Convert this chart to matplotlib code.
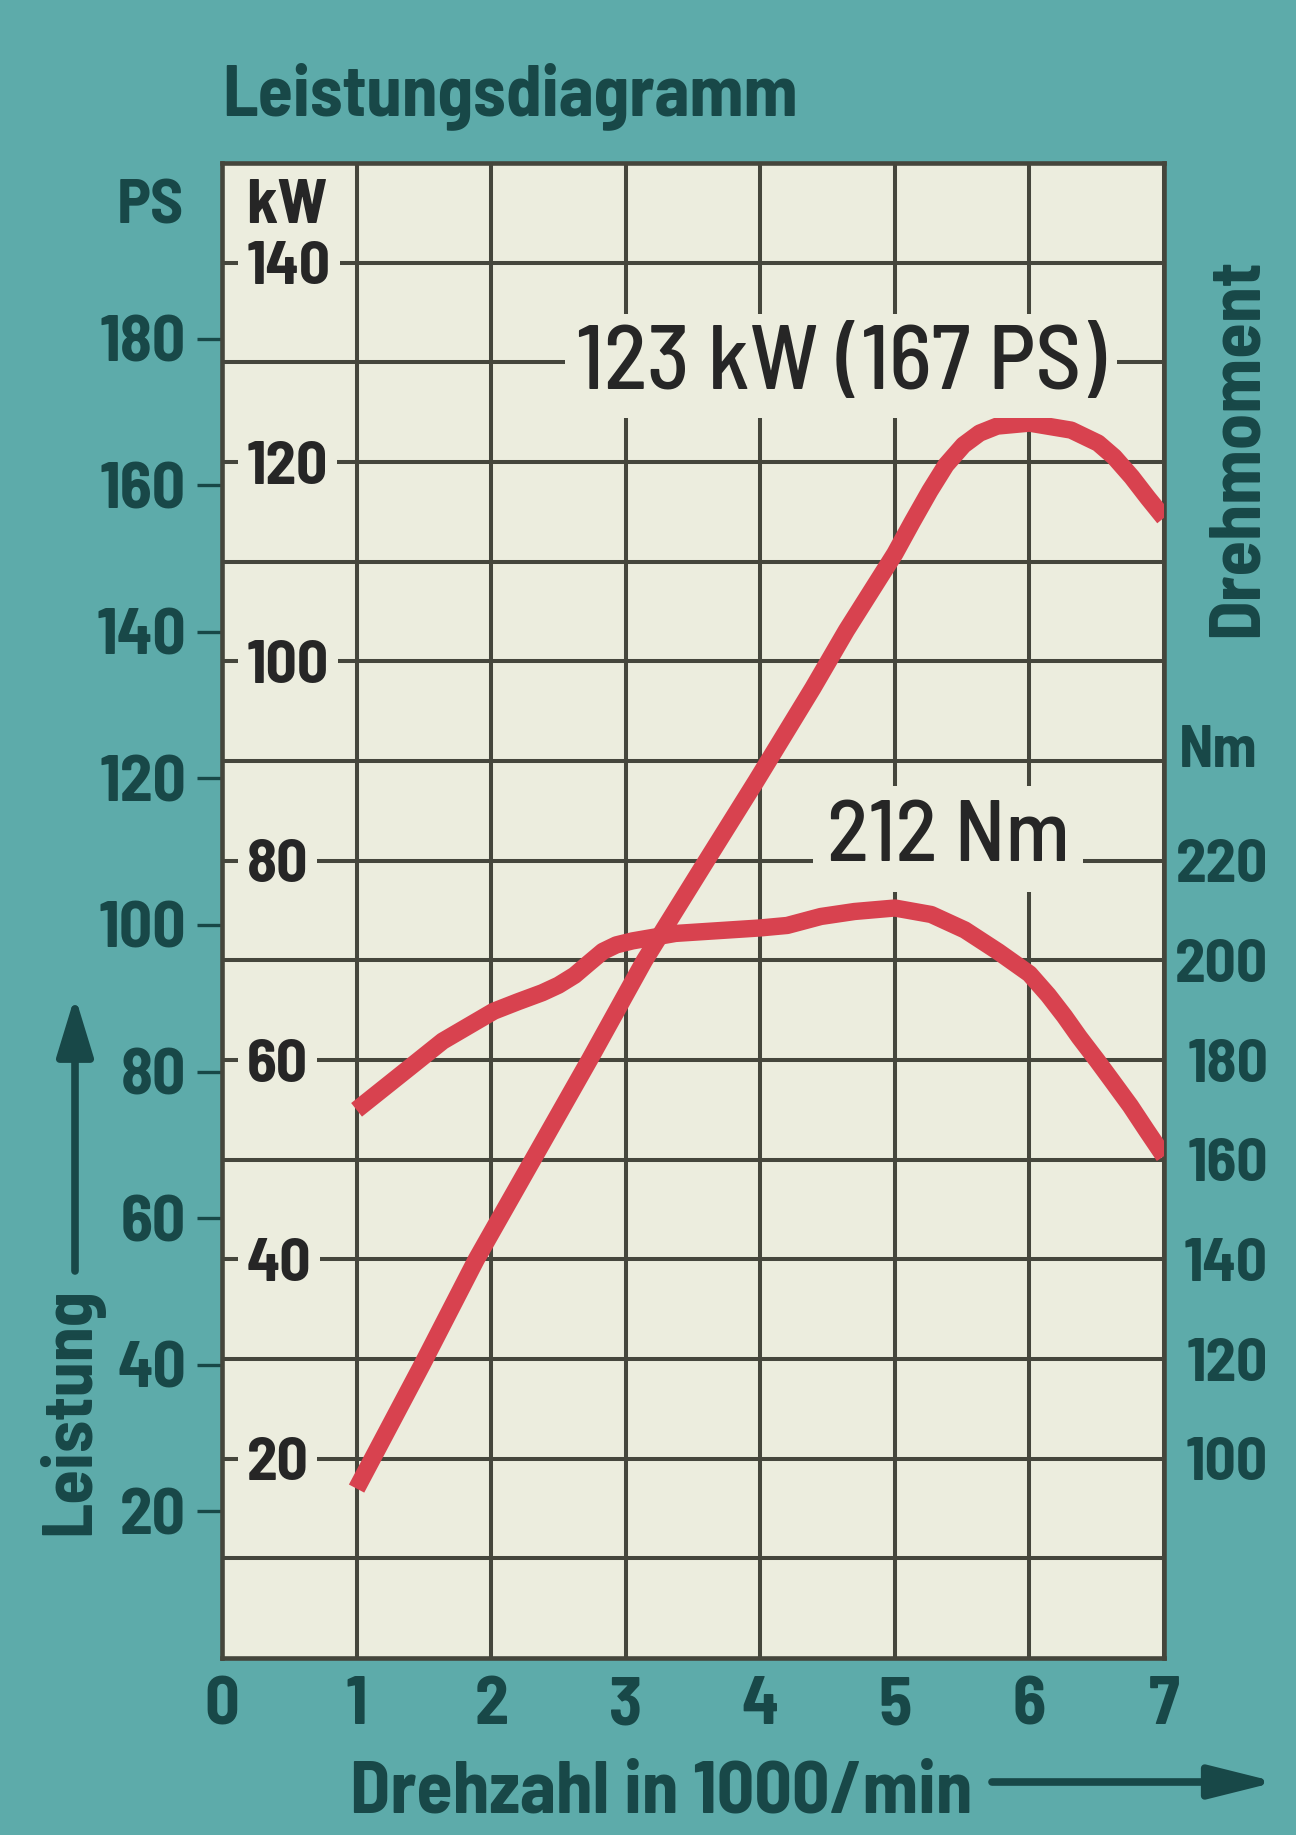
import matplotlib
matplotlib.use("Agg")
import matplotlib.pyplot as plt
from matplotlib import font_manager
from matplotlib.patches import FancyArrowPatch

# ---------------- data ----------------
rpm_power = [1.0, 1.49, 1.89, 2.31, 2.73, 3.14, 3.60, 3.97, 4.39, 4.64, 5.0,
             5.13, 5.26, 5.38, 5.51, 5.63, 5.76, 6.0, 6.31, 6.51, 6.63, 6.76,
             6.88, 7.0]
power_kw = [17.0, 29.5, 40.0, 50.0, 60.0, 70.0, 80.0, 88.0, 97.3, 103.1, 110.8,
            114.0, 117.1, 119.7, 121.7, 122.9, 123.6, 123.9, 123.2, 121.9, 120.5,
            118.5, 116.4, 114.4]

rpm_torque = [1.0, 1.39, 1.64, 2.02, 2.2, 2.38, 2.5, 2.62, 2.72, 2.83, 2.93,
              3.05, 3.2, 3.37, 4.0, 4.2, 4.45, 4.7, 5.0, 5.27, 5.52, 5.77, 6.0,
              6.14, 6.26, 6.37, 6.5, 6.62, 6.75, 6.87, 7.0]
torque_nm = [170.0, 178.4, 183.8, 189.8, 191.7, 193.5, 195.0, 197.0, 199.3,
             201.8, 203.1, 203.9, 204.6, 205.4, 206.5, 207.0, 208.8, 209.8, 210.5,
             209.2, 206.1, 201.7, 197.3, 193.0, 188.8, 184.6, 180.0, 175.6, 170.8,
             165.9, 160.7]

x_ticks = [0, 1, 2, 3, 4, 5, 6, 7]
x_labels = ["0", "1", "2", "3", "4", "5", "6", "7"]
kw_ticks = [20, 40, 60, 80, 100, 120, 140]
kw_minor = [10, 30, 50, 70, 90, 110, 130]
ps_ticks = [20, 40, 60, 80, 100, 120, 140, 160, 180]
nm_ticks = [100, 120, 140, 160, 180, 200, 220]

title = "Leistungsdiagramm"
power_note = "123 kW (167 PS)"
torque_note = "212 Nm"

# ---------------- style ----------------
names = {f.name for f in font_manager.fontManager.ttflist}
FONT = "Barlow Semi Condensed" if "Barlow Semi Condensed" in names else "DejaVu Sans"
plt.rcParams["font.family"] = [FONT, "DejaVu Sans"]

TEAL = "#5dabaa"
DARK = "#184848"
CREAM = "#ecedde"
GRID = "#45463c"
RED = "#d8424f"
INK = "#262626"

W_PX, H_PX = 1296, 1835


def fx(px):
    return px / W_PX


def fy(py):
    return 1 - py / H_PX


fig = plt.figure(figsize=(W_PX / 100, H_PX / 100), dpi=100, facecolor=TEAL)
renderer = fig.canvas.get_renderer()


def fit(t, target_px):
    bb = t.get_window_extent(renderer)
    length = max(bb.width, bb.height)
    t.set_fontsize(t.get_fontsize() * target_px / length)
    return t


left, right, top, bottom = 222, 1164, 163, 1658
ax = fig.add_axes([fx(left), fy(bottom), (right - left) / W_PX, (bottom - top) / H_PX],
                  facecolor=CREAM)
ax.set_xlim(0, 7)
ax.set_ylim(0, 150)
ax.set_axisbelow(True)

# x axis
ax.set_xticks(x_ticks, x_labels, fontsize=49, fontweight="bold", color=DARK)
ax.tick_params(axis="x", length=0, pad=13)

# kW axis (labels inside the plot)
ax.set_yticks(kw_ticks, [str(v) for v in kw_ticks], fontsize=44, fontweight="bold",
              color=INK, ha="left")
ax.set_yticks(kw_minor, minor=True)
ax.tick_params(axis="y", which="both", length=0)
ax.tick_params(axis="y", which="major", pad=-18)
for lab in ax.get_yticklabels():
    lab.set_bbox(dict(boxstyle="square,pad=0.14", fc=CREAM, ec="none"))

ax.grid(True, which="both", color=GRID, lw=2.9)
for s in ax.spines.values():
    s.set_color(GRID)
    s.set_linewidth(3.3)

# PS axis (outside left)
sec = ax.secondary_yaxis("left", functions=(lambda k: k * 1.35962, lambda p: p / 1.35962))
sec.set_ticks(ps_ticks, labels=[str(v) for v in ps_ticks], fontsize=47,
              fontweight="bold", color=DARK)
sec.tick_params(length=18, width=2.4, color=DARK, pad=8)
sec.spines["left"].set_visible(False)

# power curve
ax.plot(rpm_power, power_kw, color=RED, lw=12.5, solid_capstyle="butt",
        solid_joinstyle="round", zorder=3)

# torque axis (right)
ax2 = ax.twinx()
ax2.set_ylim(60, 360)
ax2.set_yticks(nm_ticks, [str(v) for v in nm_ticks], fontsize=44, fontweight="bold",
               color=DARK, ha="right")
ax2.tick_params(axis="y", length=0, pad=75)
for s in ax2.spines.values():
    s.set_visible(False)
ax2.plot(rpm_torque, torque_nm, color=RED, lw=12.5, solid_capstyle="butt",
         solid_joinstyle="round", zorder=3)

# annotations on the grid
t1 = ax.text(4.60, 127.3, power_note, ha="center", va="baseline", fontsize=60,
             color=INK, fontweight="medium",
             bbox=dict(boxstyle="square,pad=0.12", fc=CREAM, ec="none"), zorder=4)
fit(t1, 530)
t2 = ax.text(5.395, 80, torque_note, ha="center", va="baseline", fontsize=57,
             color=INK, fontweight="medium",
             bbox=dict(boxstyle="square,pad=0.16", fc=CREAM, ec="none"), zorder=4)
fit(t2, 243)

# unit labels
fig.text(fx(184), fy(223), "PS", ha="right", va="baseline", fontsize=46,
         fontweight="bold", color=DARK)
fig.text(fx(246), fy(223), "kW", ha="left", va="baseline", fontsize=46,
         fontweight="bold", color=INK)
fig.text(fx(1218), fy(767), "Nm", ha="center", va="baseline", fontsize=42,
         fontweight="bold", color=DARK)

# title
tt = fig.text(fx(222), fy(115), title, ha="left", va="baseline", fontsize=50,
              fontweight="bold", color=DARK)
fit(tt, 576)

# rotated axis titles
td = fig.text(fx(1257), fy(637), "Drehmoment", rotation=90, rotation_mode="anchor",
              ha="left", va="baseline", fontsize=52, fontweight="bold", color=DARK)
fit(td, 379)
tl = fig.text(fx(89), fy(1535), "Leistung", rotation=90, rotation_mode="anchor",
              ha="left", va="baseline", fontsize=51, fontweight="bold", color=DARK)
fit(tl, 248)
tx = fig.text(fx(350), fy(1812), "Drehzahl in 1000/min", ha="left", va="baseline",
              fontsize=54, fontweight="bold", color=DARK)
fit(tx, 622)

# arrows
fig.add_artist(FancyArrowPatch((fx(75), fy(1271)), (fx(75), fy(996)),
                               transform=fig.transFigure,
                               arrowstyle="-|>,head_length=36,head_width=11",
                               mutation_scale=1, lw=5.5, color=DARK,
                               shrinkA=0, shrinkB=0))
fig.add_artist(FancyArrowPatch((fx(992), fy(1782)), (fx(1276), fy(1782)),
                               transform=fig.transFigure,
                               arrowstyle="-|>,head_length=40,head_width=10",
                               mutation_scale=1, lw=5.5, color=DARK,
                               shrinkA=0, shrinkB=0))

fig.savefig("out.png", dpi=100, facecolor=TEAL)
